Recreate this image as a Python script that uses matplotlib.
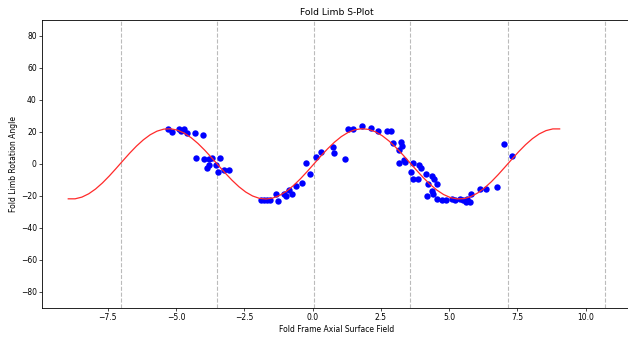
import numpy
import matplotlib
matplotlib.use("Agg")
import matplotlib.pyplot as plt

fold_frame = [-5.28, -5.14, -4.89, -4.82, -4.71, -4.59, -4.32, -4.00,
              -4.26, -3.96, -3.78, -3.67, -3.41, -3.79, -3.88, -3.55, -3.45, -3.23, -3.07,
              -1.89, -1.78, -1.67, -1.56,
              -1.35, -1.25, -1.04, -0.97, -0.85, -0.76, -0.60, -0.38, -0.24, -0.09,
              0.13, 0.32, 0.73, 0.79, 1.20,
              1.31, 1.47, 1.80, 2.14, 2.41, 2.72, 2.88, 2.96, 3.24, 3.27, 3.18,
              3.17, 3.35, 3.39, 3.69, 3.61, 3.66, 3.85, 3.91, 3.97, 4.16, 4.37, 4.46,
              4.21, 4.55, 4.37, 4.42, 4.18, 4.57, 4.73, 4.89, 5.10, 5.22, 5.40, 5.50,
              5.65, 5.62, 5.77, 5.81, 6.14, 6.36, 6.75, 7.01, 7.30]
rotation = [22.1, 20.0, 22.1, 20.4, 22.1, 19.1, 19.6, 17.9,
            3.6, 3.0, 3.3, 3.9, 3.9, -0.5, -2.4, -0.5, -5.1, -3.6, -3.6,
            -22.7, -22.5, -22.5, -22.3,
            -18.7, -23.4, -18.7, -19.8, -16.2, -18.7, -14.1, -12.1, 0.8, -6.2,
            4.3, 7.2, 10.5, 6.8, 2.8,
            21.7, 21.5, 23.5, 22.5, 20.6, 20.6, 20.4, 13.3, 13.7, 11.2, 8.9,
            0.5, 2.6, 1.1, 0.5, -5.1, -9.3, -9.3, -0.9, -2.4, -6.6, -7.8, -9.3,
            -12.4, -12.4, -17.1, -19.1, -20.4, -21.8, -22.3, -22.5, -21.8, -22.9, -21.8, -22.9,
            -21.8, -24.0, -24.0, -18.7, -15.6, -15.6, -14.6, 12.7, 4.9]

# fitted s-curve, sampled every 0.25 along the fold frame
curve_x = numpy.arange(-8.95, 9.06, 0.25)
curve_y = [-21.87, -21.87, -20.80, -18.72, -15.73, -11.97, -7.63, -2.91,
           1.94, 6.71, 11.14, 15.02, 18.19, 20.46, 21.74, 21.95,
           21.10, 19.21, 16.39, 12.77, 8.53, 3.87, -0.97, -5.77,
           -10.27, -14.29, -17.62, -20.08, -21.57, -21.99, -21.35, -19.67,
           -17.03, -13.55, -9.42, -4.83, 0.0, 4.83, 9.42, 13.55,
           17.03, 19.67, 21.35, 21.99, 21.57, 20.08, 17.62, 14.29,
           10.27, 5.77, 0.97, -3.87, -8.53, -12.77, -16.39, -19.21,
           -21.10, -21.95, -21.74, -20.46, -18.19, -15.02, -11.14, -6.71,
           -1.94, 2.91, 7.63, 11.97, 15.73, 18.72, 20.80, 21.87, 21.87]

# hinge / inflection lines
hinges = [-7.01, -3.51, 0.05, 3.57, 7.17, 10.70]

fs = 5.5
plt.rcParams.update({"xtick.labelsize": fs, "ytick.labelsize": fs,
                     "xtick.major.size": 2, "ytick.major.size": 2,
                     "xtick.major.width": 0.5, "ytick.major.width": 0.5,
                     "xtick.major.pad": 2, "ytick.major.pad": 2,
                     "axes.linewidth": 0.6})

fig = plt.figure(figsize=(6.28, 3.38), dpi=100)
ax = fig.add_axes([0.0674, 0.0896, 0.9381, 0.8512])

for h in hinges:
    ax.axvline(h, color="#bbbbbb", linestyle="--", linewidth=0.8)

ax.plot(fold_frame, rotation, "bo", markersize=4.6, markeredgewidth=0)
ax.plot(curve_x, curve_y, color="#ff2a2a", linewidth=0.9)

ax.set_xlim(-9.9, 11.68)
ax.set_ylim(-90, 90)
ax.set_yticks(numpy.arange(-80, 81, 20))
ax.set_title("Fold Limb S-Plot", fontsize=6.6, pad=3.3)
ax.set_xlabel("Fold Frame Axial Surface Field", fontsize=fs, labelpad=2.2)
ax.set_ylabel("Fold Limb Rotation Angle", fontsize=fs, labelpad=2.2)

fig.savefig("out.png", dpi=100)
